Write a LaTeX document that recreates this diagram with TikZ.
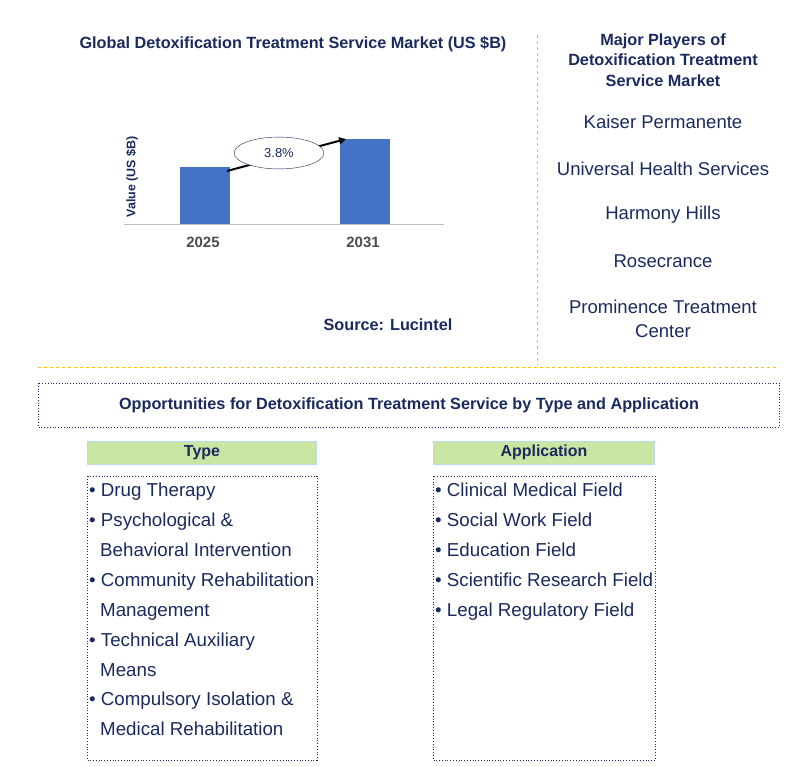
\documentclass[tikz,border=0pt]{standalone}
\usepackage{fontspec}
\setmainfont{Liberation Sans}
\usetikzlibrary{arrows.meta,shapes.geometric}
\definecolor{navy}{HTML}{1B2A5E}
\definecolor{gold}{HTML}{FFC000}
\definecolor{barblue}{HTML}{4472C4}
\definecolor{hdrgreen}{HTML}{C9E6A3}
\definecolor{hdrline}{HTML}{BDD7EE}
\begin{document}
\begin{tikzpicture}[x=1bp,y=-1bp,
  ttl/.style={font=\bfseries\fontsize{16.3}{20.5}\selectfont,text=navy,align=center},
  player/.style={font=\fontsize{18.6}{24}\selectfont,text=navy,align=center},
  item/.style={font=\fontsize{18.8}{30}\selectfont,text=navy,align=left,anchor=north west},
  sep/.style={draw=gold,dashed,line width=1pt},
  dbox/.style={draw=navy,dotted,line width=0.8pt},
  hdr/.style={draw=hdrline,fill=hdrgreen,font=\bfseries\fontsize{16}{18}\selectfont,text=navy},
  bar/.style={fill=barblue,draw=none}]
\useasboundingbox (0,0) rectangle (797,767);
\node[ttl] (title) at (293,44) {Global Detoxification Treatment Service Market (US \$B)};
\draw[sep] (537,35) -- (537,365);
\draw[sep] (38,367) -- (778,367);
\draw[gray!50,line width=0.8pt] (124,224) -- (444,224);
\fill[bar] (180,167) rectangle (230,224);
\fill[bar] (340,139) rectangle (390,224);
\coordinate (a1) at (227,171);
\coordinate (a2) at (346,139);
\draw[line width=2pt,-{Triangle[length=7pt,width=7pt]}] (a1) -- (a2);
\node[draw=navy,fill=white,ellipse,minimum width=90,minimum height=32,inner sep=0,
  font=\fontsize{13}{15}\selectfont,text=navy] (cagr) at (279,153) {3.8\%};
\node[rotate=90,font=\bfseries\fontsize{12.5}{14}\selectfont,text=navy] (ylab) at (132,177) {Value (US \$B)};
\node[font=\bfseries\fontsize{15}{17}\selectfont,text=black!70] (y1) at (203,242) {2025};
\node[font=\bfseries\fontsize{15}{17}\selectfont,text=black!70] (y2) at (363,242) {2031};
\node[ttl] (src) at (388,325) {Source: Lucintel};
\node[ttl] (mp) at (663,60) {Major Players of\\Detoxification Treatment\\Service Market};
\node[player] (p1) at (663,122) {Kaiser Permanente};
\node[player] (p2) at (663,169) {Universal Health Services};
\node[player] (p3) at (663,215) {Harmony Hills};
\node[player] (p4) at (663,261) {Rosecrance};
\node[player] (p5) at (663,319) {Prominence Treatment\\Center};
\draw[dbox] (38,383) rectangle (779,427);
\node[ttl] (opp) at (409,405) {Opportunities for Detoxification Treatment Service by Type and Application};
\node[hdr,minimum width=230,minimum height=23,inner sep=0] (th) at (202,452.5) {Type};
\node[hdr,minimum width=222,minimum height=23,inner sep=0] (ah) at (544,452.5) {Application};
\draw[dbox] (87,476) rectangle (317,760);
\draw[dbox] (433,476) rectangle (655,760);
\node[item,inner sep=0] (tl) at (89,483) {• Drug Therapy\\• Psychological \&\\\hspace*{11bp}Behavioral Intervention\\• Community Rehabilitation\\\hspace*{11bp}Management\\• Technical Auxiliary\\\hspace*{11bp}Means\\• Compulsory Isolation \&\\\hspace*{11bp}Medical Rehabilitation};
\node[item,inner sep=0] (al) at (435,483) {• Clinical Medical Field\\• Social Work Field\\• Education Field\\• Scientific Research Field\\• Legal Regulatory Field};
\end{tikzpicture}
\end{document}
